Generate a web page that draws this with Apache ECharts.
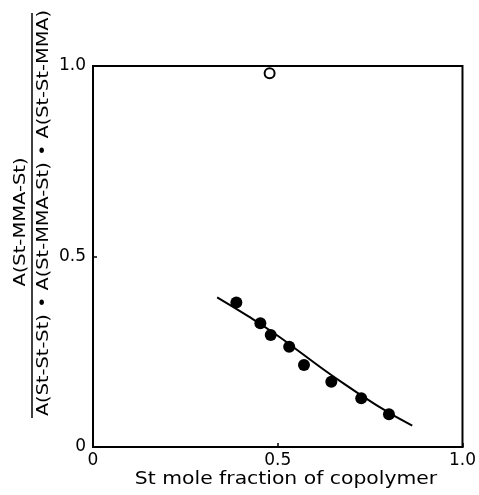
<!DOCTYPE html>
<html>
<head>
<meta charset="utf-8">
<script src="https://cdn.jsdelivr.net/npm/echarts@6/dist/echarts.min.js"></script>
<style>html,body{margin:0;padding:0;background:#fff}#c{width:479px;height:495px}</style>
</head>
<body>
<div id="c"></div>
<script>
// Data
const filledX = [0.388, 0.453, 0.481, 0.531, 0.571, 0.645, 0.726, 0.801];
const filledY = [0.379, 0.325, 0.294, 0.263, 0.215, 0.171, 0.128, 0.086];
const openX = [0.478];
const openY = [0.981];
const curveX = [0.336, 0.422, 0.500, 0.559, 0.645, 0.767, 0.864];
const curveY = [0.393, 0.342, 0.292, 0.250, 0.189, 0.110, 0.056];
const xTicks = [0, 0.5, 1.0];
const yTicks = [0, 0.5, 1.0];
const xName = 'St mole fraction of copolymer';
const yNumerator = 'A(St-MMA-St)';
const yDenominator = 'A(St-St-St) \u2022 A(St-MMA-St) \u2022 A(St-St-MMA)';

const font = 'DejaVu Sans';
const zip = (a, b) => a.map((v, i) => [v, b[i]]);
const fmt = v => (v === 0 ? '0' : v.toFixed(1));

const chart = echarts.init(document.getElementById('c'));
chart.setOption({
  animation: false,
  backgroundColor: '#fff',
  grid: { left: 93, right: 14, top: 66, bottom: 48, show: true, borderColor: '#000', borderWidth: 2, containLabel: false },
  xAxis: {
    type: 'value', min: 0, max: 1, interval: 0.5,
    axisLine: { show: true, lineStyle: { color: '#000', width: 2 } },
    axisTick: { show: true, inside: true, length: 4, lineStyle: { color: '#000', width: 1.5 } },
    splitLine: { show: false },
    axisLabel: { color: '#000', fontFamily: font, fontSize: 17, margin: 5, formatter: fmt }
  },
  yAxis: {
    type: 'value', min: 0, max: 1, interval: 0.5,
    axisLine: { show: true, lineStyle: { color: '#000', width: 2 } },
    axisTick: { show: true, inside: true, length: 4, lineStyle: { color: '#000', width: 1.5 } },
    splitLine: { show: false },
    axisLabel: { color: '#000', fontFamily: font, fontSize: 17, margin: 7, formatter: fmt }
  },
  graphic: [
    { type: 'text', x: 21, y: 222, rotation: Math.PI / 2, scaleX: 1.3,
      style: { text: yNumerator, fontFamily: font, fontSize: 15, fill: '#000', textAlign: 'center', textVerticalAlign: 'middle' } },
    { type: 'line', shape: { x1: 32, y1: 13, x2: 32, y2: 418 }, style: { stroke: '#000', lineWidth: 1.5 } },
    { type: 'text', x: 44, y: 213, rotation: Math.PI / 2, scaleX: 1.29,
      style: { text: yDenominator, fontFamily: font, fontSize: 15, fill: '#000', textAlign: 'center', textVerticalAlign: 'middle' } },
    { type: 'text', x: 286, y: 479, scaleX: 1.13,
      style: { text: xName, fontFamily: font, fontSize: 18, fill: '#000', textAlign: 'center', textVerticalAlign: 'middle' } }
  ],
  series: [
    { type: 'line', data: zip(curveX, curveY), smooth: true, symbol: 'none',
      lineStyle: { color: '#000', width: 2 }, z: 2 },
    { type: 'scatter', data: zip(filledX, filledY), symbol: 'circle', symbolSize: 12,
      itemStyle: { color: '#000', opacity: 1 }, z: 3 },
    { type: 'scatter', data: zip(openX, openY), symbol: 'circle', symbolSize: 10,
      itemStyle: { color: '#fff', borderColor: '#000', borderWidth: 2, opacity: 1 }, z: 3 }
  ]
});
</script>
</body>
</html>
